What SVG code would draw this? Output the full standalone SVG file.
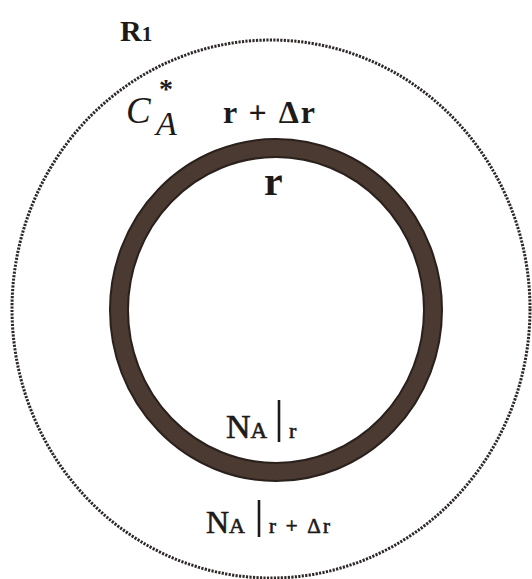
<svg xmlns="http://www.w3.org/2000/svg" width="532" height="579" viewBox="0 0 532 579">
<style>
.t{font-family:"Liberation Serif","Times New Roman",serif;fill:#1e1a18}
.b{font-weight:bold}
.i{font-style:italic}
.m{stroke:#1e1a18;stroke-width:0.6}
.bar{stroke:#1e1a18;stroke-width:2.6}
</style>
<rect width="532" height="579" fill="#ffffff"/>
<g id="outer-boundary">
<ellipse cx="271" cy="309" rx="259" ry="269" fill="none" stroke="#2e2826" stroke-width="3" stroke-dasharray="2.2 1.3"/>
</g>
<g id="shell">
<ellipse cx="276" cy="310" rx="157" ry="162" fill="none" stroke="#2a201c" stroke-width="20"/>
<ellipse cx="276" cy="310" rx="157" ry="162" fill="none" stroke="#4b3a32" stroke-width="16"/>
</g>
<g id="labels">
<text class="t b" x="120" y="41" font-size="30">R<tspan font-size="21">1</tspan></text>
<text class="t i" x="126" y="123" font-size="37">C</text>
<text class="t b" x="159" y="98" font-size="28">*</text>
<text class="t i" x="156" y="135" font-size="34">A</text>
<text class="t b" x="223" y="123" font-size="32" textLength="92" lengthAdjust="spacing">r + Δr</text>
<text class="t b" x="264" y="195" font-size="42">r</text>
</g>
<g id="flux-inner">
<text class="t m" x="226" y="438" font-size="34">N<tspan font-size="23">A</tspan></text>
<line class="bar" x1="279" y1="400" x2="279" y2="442"/>
<text class="t m" x="289" y="438" font-size="22">r</text>
</g>
<g id="flux-outer">
<text class="t m" x="206" y="533" font-size="32">N<tspan font-size="22">A</tspan></text>
<line class="bar" x1="259" y1="500" x2="259" y2="537"/>
<text class="t m" x="269" y="533" font-size="21" textLength="61" lengthAdjust="spacing">r + Δr</text>
</g>
</svg>
